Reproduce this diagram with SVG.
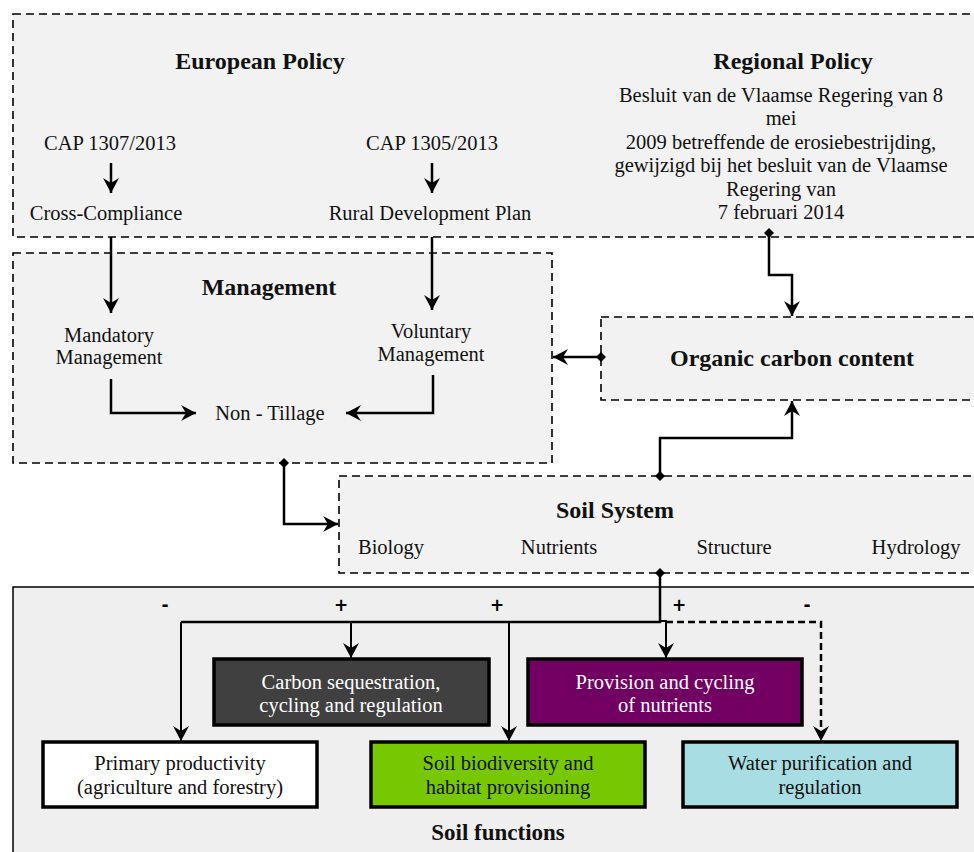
<svg xmlns="http://www.w3.org/2000/svg" width="974" height="852" viewBox="0 0 974 852">
<defs>
<marker id="arr" viewBox="0 0 16 16" refX="15" refY="8" markerWidth="16" markerHeight="16" orient="auto" markerUnits="userSpaceOnUse"><path d="M0,0 L15,8 L0,16 L5,8 z" fill="#000"/></marker>
<marker id="dia" viewBox="0 0 10 10" refX="5" refY="5" markerWidth="10" markerHeight="10" orient="auto" markerUnits="userSpaceOnUse"><path d="M5,0 L10,5 L5,10 L0,5 z" fill="#000"/></marker>
<style>
.dbox{fill:#f2f2f2;stroke:#000;stroke-width:1.6;stroke-dasharray:8 5}
.fbox{stroke:#000;stroke-width:3.5}
.t{font-family:"Liberation Serif","Times New Roman",serif;font-size:20.5px;fill:#111;text-anchor:middle}
.b{font-family:"Liberation Serif","Times New Roman",serif;font-size:24px;font-weight:bold;fill:#111;text-anchor:middle}
.w{fill:#fff}
.s{font-family:"DejaVu Sans",sans-serif;font-size:17px;font-weight:bold;fill:#000;text-anchor:middle}
.c{fill:none;stroke:#000;stroke-width:2.5}
.cd{fill:none;stroke:#000;stroke-width:2.5;stroke-dasharray:7 4}
</style>
</defs>
<rect x="0" y="0" width="974" height="852" fill="#fff"/>

<g id="policy">
<rect class="dbox" x="13" y="14" width="980" height="223"/>
<text class="b" x="260" y="69">European Policy</text>
<text class="t" x="110" y="150">CAP 1307/2013</text>
<text class="t" x="106" y="220">Cross-Compliance</text>
<text class="t" x="432" y="150">CAP 1305/2013</text>
<text class="t" x="430" y="220">Rural Development Plan</text>
<text class="b" x="793" y="69">Regional Policy</text>
<text class="t" x="781" y="102">Besluit van de Vlaamse Regering van 8</text>
<text class="t" x="781" y="125">mei</text>
<text class="t" x="781" y="149">2009 betreffende de erosiebestrijding,</text>
<text class="t" x="781" y="172">gewijzigd bij het besluit van de Vlaamse</text>
<text class="t" x="781" y="196">Regering van</text>
<text class="t" x="781" y="219">7 februari 2014</text>
</g>

<g id="management">
<rect class="dbox" x="13" y="253" width="539" height="210"/>
<text class="b" x="269" y="295">Management</text>
<text class="t" x="109" y="342">Mandatory</text>
<text class="t" x="109" y="364">Management</text>
<text class="t" x="431" y="338">Voluntary</text>
<text class="t" x="431" y="361">Management</text>
<text class="t" x="270" y="420">Non - Tillage</text>
</g>

<g id="organic-carbon">
<rect class="dbox" x="601" y="317" width="390" height="83"/>
<text class="b" x="792" y="366">Organic carbon content</text>
</g>

<g id="soil-system">
<rect class="dbox" x="339" y="476" width="650" height="97"/>
<text class="b" x="615" y="518">Soil System</text>
<text class="t" x="391" y="554">Biology</text>
<text class="t" x="559" y="554">Nutrients</text>
<text class="t" x="734" y="554">Structure</text>
<text class="t" x="916" y="554">Hydrology</text>
</g>

<g id="soil-functions">
<rect x="13" y="587" width="980" height="280" fill="#efefef" stroke="#000" stroke-width="1.5"/>
<text class="s" x="165" y="611">-</text>
<text class="s" x="341" y="611">+</text>
<text class="s" x="497" y="611">+</text>
<text class="s" x="679" y="611">+</text>
<text class="s" x="807" y="611">-</text>
<text class="b" x="498" y="840" style="font-size:23px">Soil functions</text>
</g>

<g id="carbon-sequestration">
<rect class="fbox" x="214" y="659" width="275" height="66" fill="#404040"/>
<text class="t w" x="351" y="689">Carbon sequestration,</text>
<text class="t w" x="351" y="712">cycling and regulation</text>
</g>
<g id="provision-nutrients">
<rect class="fbox" x="528" y="659" width="274" height="66" fill="#720062"/>
<text class="t w" x="665" y="689">Provision and cycling</text>
<text class="t w" x="665" y="712">of nutrients</text>
</g>
<g id="primary-productivity">
<rect class="fbox" x="43" y="742" width="274" height="65" fill="#fff"/>
<text class="t" x="180" y="770">Primary productivity</text>
<text class="t" x="180" y="794">(agriculture and forestry)</text>
</g>
<g id="soil-biodiversity">
<rect class="fbox" x="371" y="742" width="274" height="65" fill="#77c800"/>
<text class="t" x="508" y="770">Soil biodiversity and</text>
<text class="t" x="508" y="794">habitat provisioning</text>
</g>
<g id="water-purification">
<rect class="fbox" x="683" y="742" width="274" height="65" fill="#a8dde3"/>
<text class="t" x="820" y="770">Water purification and</text>
<text class="t" x="820" y="794">regulation</text>
</g>

<g id="connectors">
<path class="c" d="M111,163 L111,193" marker-end="url(#arr)"/>
<path class="c" d="M432,163 L432,193" marker-end="url(#arr)"/>
<path class="c" d="M111,237 L111,313" marker-end="url(#arr)"/>
<path class="c" d="M432,237 L432,310" marker-end="url(#arr)"/>
<path class="c" d="M111,379 L111,413 L196,413" marker-end="url(#arr)"/>
<path class="c" d="M433,375 L433,413 L346,413" marker-end="url(#arr)"/>
<path class="c" d="M769,233 L769,275 L792,275 L792,316" marker-start="url(#dia)" marker-end="url(#arr)"/>
<path class="c" d="M601,357 L553,357" marker-start="url(#dia)" marker-end="url(#arr)"/>
<path class="c" d="M284,463 L284,524 L338,524" marker-start="url(#dia)" marker-end="url(#arr)"/>
<path class="c" d="M660,476 L660,438 L792,438 L792,401" marker-start="url(#dia)" marker-end="url(#arr)"/>
<path class="c" d="M660,573 L660,622 L181,622" marker-start="url(#dia)"/>
<path class="c" d="M181,622 L181,741" style="stroke-width:2" marker-end="url(#arr)"/>
<path class="c" d="M351,622 L351,658" style="stroke-width:2" marker-end="url(#arr)"/>
<path class="c" d="M509,622 L509,741" style="stroke-width:2" marker-end="url(#arr)"/>
<path class="c" d="M659,621 L666,621 L666,658" style="stroke-width:2" marker-end="url(#arr)"/>
<path class="cd" d="M666,622 L821,622 L821,741" marker-end="url(#arr)"/>
</g>
</svg>
